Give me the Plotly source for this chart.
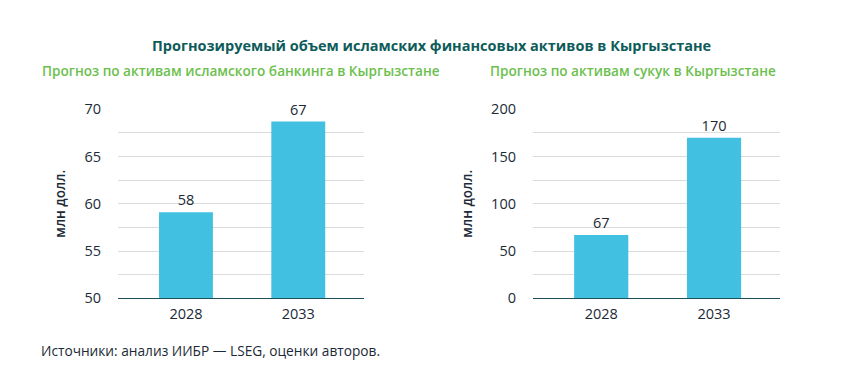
import plotly.graph_objects as go

years = ["2028", "2033"]
bank_values = [59.1, 68.7]
bank_labels = ["58", "67"]
sukuk_values = [67, 170]
sukuk_labels = ["67", "170"]

title_text = "Прогнозируемый объем исламских финансовых активов в Кыргызстане"
sub_left = "Прогноз по активам исламского банкинга в Кыргызстане"
sub_right = "Прогноз по активам сукук в Кыргызстане"
y_title = "млн долл."
source_text = "Источники: анализ ИИБР — LSEG, оценки авторов."

FONT = "Open Sans"
TXT = "#1b2a36"
BAR = "#42c0e1"
GRID = "#d9dddd"
AXIS = "#1f4f5a"

fig = go.Figure()
fig.add_trace(go.Bar(x=years, y=bank_values, text=bank_labels, textposition="outside",
                     marker=dict(color=BAR, line=dict(width=0)), width=0.48,
                     textfont=dict(family=FONT, size=14.5, color=TXT), cliponaxis=False,
                     xaxis="x", yaxis="y", showlegend=False))
fig.add_trace(go.Bar(x=years, y=sukuk_values, text=sukuk_labels, textposition="outside",
                     marker=dict(color=BAR, line=dict(width=0)), width=0.48,
                     textfont=dict(family=FONT, size=14.5, color=TXT), cliponaxis=False,
                     xaxis="x2", yaxis="y2", showlegend=False))

yb, yt = 0.2252, 0.7161
common_x = dict(type="category", range=[-0.605, 1.585], showgrid=False, showline=True,
                linecolor=AXIS, linewidth=1.3, ticks="", automargin=False, ticklabelstandoff=2,
                tickfont=dict(family=FONT, size=14.5, color=TXT), fixedrange=True)


def y_common(minor_dtick):
    return dict(showgrid=True, gridcolor=GRID, gridwidth=1, showline=False, zeroline=False,
                ticks="", automargin=False, ticklabelstandoff=16,
                tickfont=dict(family=FONT, size=14.5, color=TXT),
                minor=dict(showgrid=True, gridcolor=GRID, gridwidth=1, dtick=minor_dtick),
                title=dict(text=y_title, font=dict(family=FONT, size=13.5, color=TXT, weight=600),
                           standoff=15),
                fixedrange=True)


fig.update_layout(
    template="none",
    width=851, height=385,
    autosize=False,
    margin=dict(l=0, r=0, t=0, b=0, pad=0, autoexpand=False),
    paper_bgcolor="white", plot_bgcolor="white",
    xaxis=dict(domain=[0.1387, 0.4277], anchor="y", **common_x),
    xaxis2=dict(domain=[0.6263, 0.9166], anchor="y2", **common_x),
    yaxis=dict(domain=[yb, yt], anchor="x", range=[50, 70], dtick=5, **y_common(2.5)),
    yaxis2=dict(domain=[yb, yt], anchor="x2", range=[0, 200], dtick=50, **y_common(25)),
    annotations=[
        dict(text=title_text, x=431 / 851, y=1 - 45 / 385, xref="paper", yref="paper",
             xanchor="center", yanchor="middle", showarrow=False,
             font=dict(family=FONT, size=14.5, color="#0e5c5a", weight=700)),
        dict(text=sub_left, x=40 / 851, y=1 - 70 / 385, xref="paper", yref="paper",
             xanchor="left", yanchor="middle", showarrow=False,
             font=dict(family=FONT, size=13.6, color="#6cbf4e", weight=600)),
        dict(text=sub_right, x=488 / 851, y=1 - 70 / 385, xref="paper", yref="paper",
             xanchor="left", yanchor="middle", showarrow=False,
             font=dict(family=FONT, size=13.6, color="#6cbf4e", weight=600)),
        dict(text=source_text, x=39 / 851, y=1 - 350 / 385, xref="paper", yref="paper",
             xanchor="left", yanchor="middle", showarrow=False,
             font=dict(family=FONT, size=13.7, color=TXT)),
    ],
)

post = ("document.body.style.margin='0';document.body.style.padding='0';"
        "document.body.style.overflow='hidden';"
        "var gd=document.getElementById('{plot_id}');"
        "Plotly.relayout(gd,{width:851,height:385});")
fig.write_html("out.html", post_script=post, config={"displayModeBar": False})
